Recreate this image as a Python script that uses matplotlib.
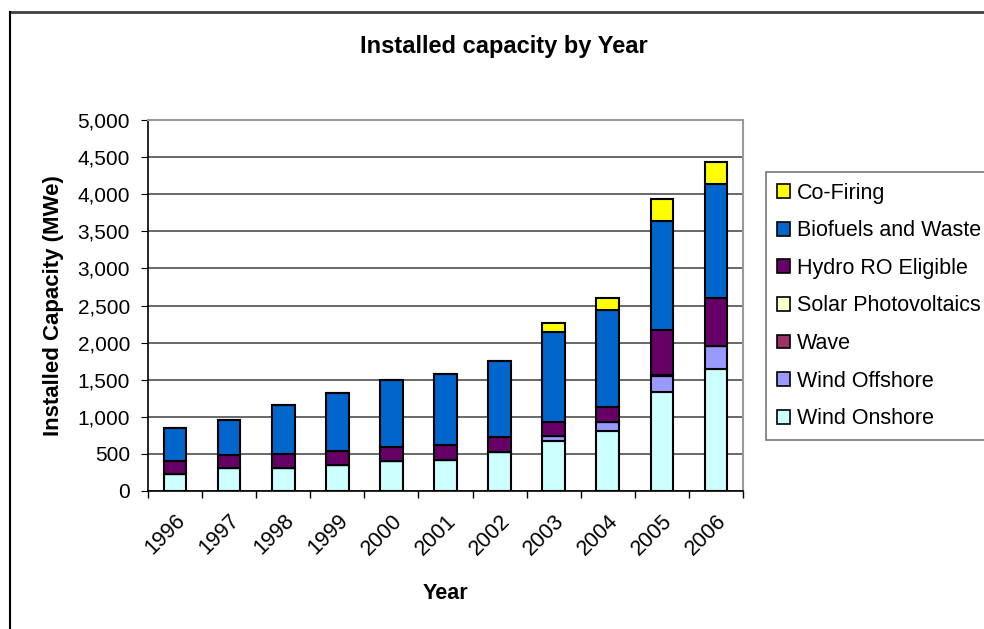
import matplotlib
matplotlib.use("Agg")
import matplotlib.pyplot as plt
import matplotlib.transforms as mtransforms
import numpy as np
from matplotlib.ticker import FuncFormatter
from matplotlib.lines import Line2D

plt.rcParams['font.family'] = ['Liberation Sans', 'DejaVu Sans']

# -----------------------------------------------------------------------------
# Data (MWe)
# -----------------------------------------------------------------------------
years = ['1996', '1997', '1998', '1999', '2000', '2001', '2002', '2003', '2004', '2005', '2006']

wind_onshore = [233, 309, 309, 345, 399, 421, 525, 668, 803, 1336, 1641]
wind_offshore = [0, 0, 0, 0, 0, 0, 0, 72, 130, 211, 314]
wave = [0, 0, 0, 0, 0, 0, 0, 0, 0, 2, 2]
solar_pv = [0, 0, 0, 0, 0, 0, 0, 0, 0, 8, 0]
hydro_ro = [166, 171, 193, 189, 188, 193, 197, 193, 197, 619, 646]
biofuels = [453, 480, 655, 784, 915, 964, 1027, 1206, 1314, 1458, 1534]
co_firing = [0, 0, 0, 0, 0, 0, 0, 121, 161, 296, 300]

series = [
    ('Wind Onshore', wind_onshore, '#CCFFFF'),
    ('Wind Offshore', wind_offshore, '#9999FF'),
    ('Wave', wave, '#993366'),
    ('Solar Photovoltaics', solar_pv, '#FFFFCC'),
    ('Hydro RO Eligible', hydro_ro, '#660066'),
    ('Biofuels and Waste', biofuels, '#0066CC'),
    ('Co-Firing', co_firing, '#FFFF00'),
]

fig = plt.figure(figsize=(9.84, 6.29), dpi=100)
ax = fig.add_axes([148 / 984, 1 - 491 / 629, (743 - 148) / 984, (491 - 120) / 629])

x = np.arange(len(years))
bottom = np.zeros(len(years))
handles = []
for name, vals, color in series:
    vals = np.array(vals, dtype=float)
    ax.bar(x, vals, width=0.42, bottom=bottom, color=color,
           edgecolor='black', linewidth=1.5, zorder=3)
    bottom += vals
    handles.append(plt.Rectangle((0, 0), 1, 1, facecolor=color, edgecolor='black', linewidth=1.2))

ax.set_xlim(-0.5, len(years) - 0.5)
ax.set_ylim(0, 5000)
ax.set_yticks(np.arange(0, 5001, 500))
ax.yaxis.set_major_formatter(FuncFormatter(lambda v, p: f"{int(v):,}"))
ax.grid(axis='y', color='#404040', linewidth=1.1, zorder=0)

# category ticks sit between bars, labels at bar centres
ax.set_xticks(np.arange(-0.5, len(years), 1.0))
ax.set_xticklabels([])
ax.set_xticks(x, minor=True)
ax.set_xticklabels(years, minor=True, rotation=45, ha='right', va='top',
                   rotation_mode='anchor', fontsize=15.5)
shift = mtransforms.ScaledTranslation(-0.18, 0.0, fig.dpi_scale_trans)
for lbl in ax.get_xticklabels(minor=True):
    lbl.set_transform(lbl.get_transform() + shift)
ax.tick_params(axis='x', which='minor', length=0, pad=14)
ax.tick_params(axis='x', which='major', length=5, direction='out', width=1)
ax.tick_params(axis='y', length=5, direction='out', labelsize=15, pad=8)

for s in ['left', 'bottom']:
    ax.spines[s].set_color('black')
    ax.spines[s].set_linewidth(1.2)
for s in ['top', 'right']:
    ax.spines[s].set_color('#999999')
    ax.spines[s].set_linewidth(1.5)

ax.set_xlabel('Year', fontsize=15.5, fontweight='bold', labelpad=17)
ax.set_ylabel('Installed Capacity (MWe)', fontsize=16, fontweight='bold', labelpad=10)
fig.text(504 / 984, 1 - 46 / 629, 'Installed capacity by Year', fontsize=17,
         fontweight='bold', ha='center', va='center')

leg = fig.legend(handles[::-1], [s[0] for s in series][::-1],
                 loc='upper left', bbox_to_anchor=(766 / 984, 1 - 172 / 629),
                 fontsize=15.5, frameon=True, fancybox=False, borderpad=0.5,
                 handlelength=0.62, handleheight=0.62, handletextpad=0.3,
                 labelspacing=0.77, borderaxespad=0)
leg.get_frame().set_edgecolor('#555555')
leg.get_frame().set_linewidth(1.2)

# chart area border (top and left edges visible)
fig.add_artist(Line2D([10 / 984, 1], [1 - 12 / 629, 1 - 12 / 629], color='#404040', linewidth=2))
fig.add_artist(Line2D([10 / 984, 10 / 984], [0, 1 - 12 / 629], color='black', linewidth=1.5))

fig.savefig('out.png', dpi=100)
